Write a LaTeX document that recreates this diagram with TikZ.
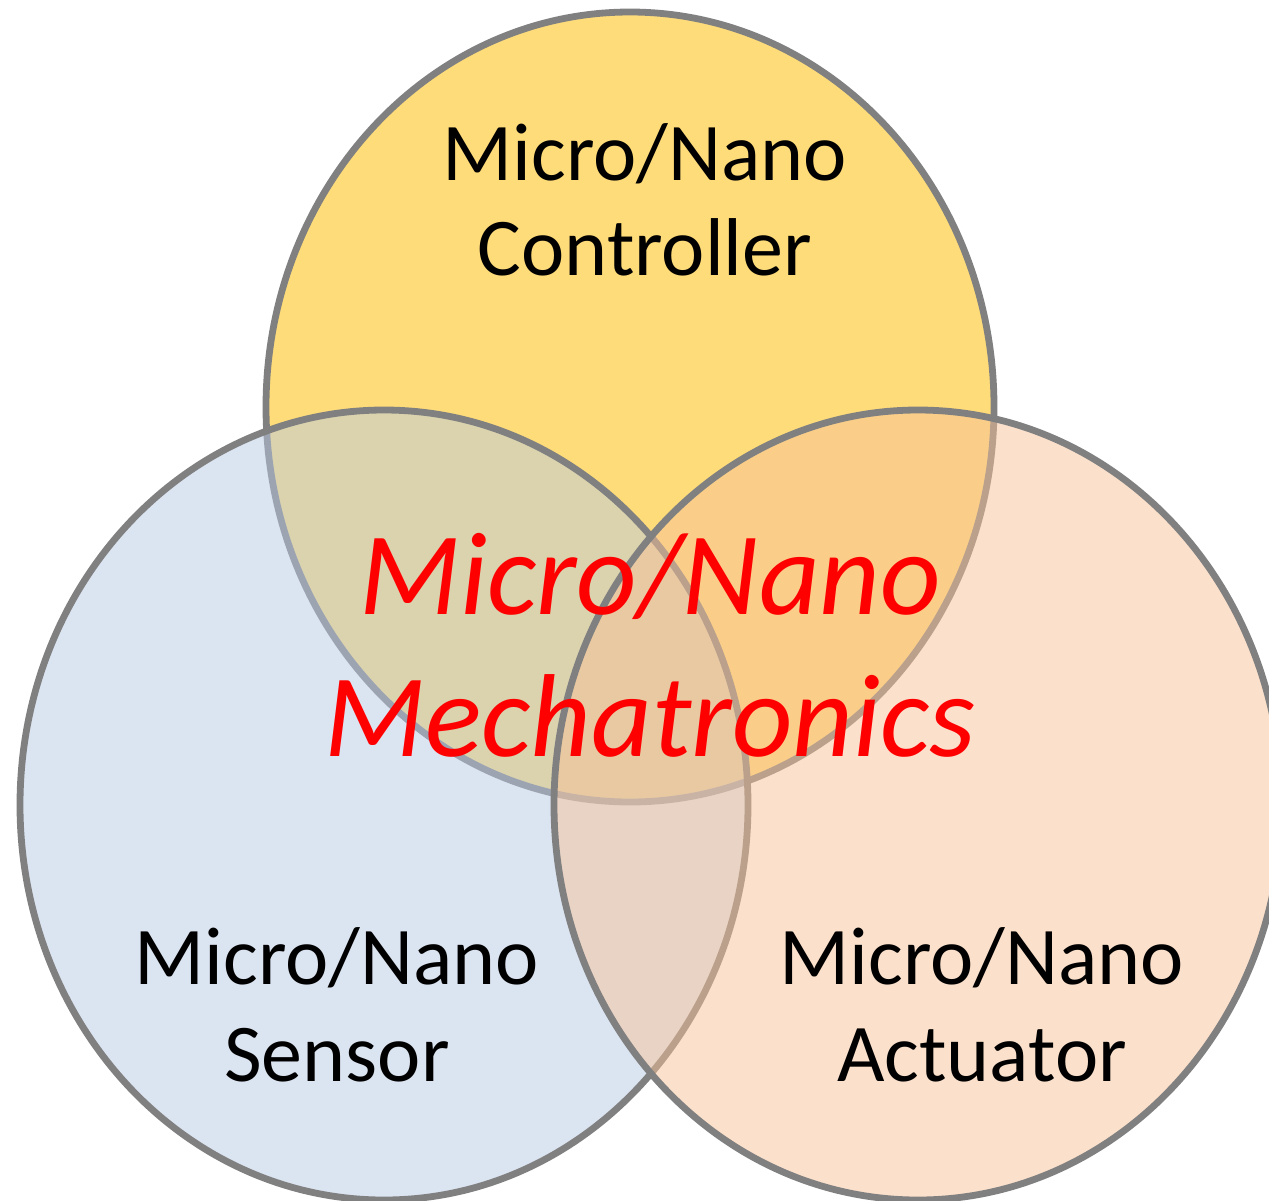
\documentclass[tikz,border=0pt]{standalone}
\usepackage{fontspec}
\setmainfont{Carlito}
\definecolor{ringgray}{RGB}{128,128,128}
\definecolor{ctrlfill}{RGB}{255,220,122}
\definecolor{sensfill}{RGB}{184,201,227}
\definecolor{actfill}{RGB}{247,194,152}
\definecolor{titlered}{RGB}{255,0,0}
\tikzset{
  ring/.style={draw=ringgray, line width=3.4pt},
  label/.style={anchor=base, text=black, font=\fontsize{41}{48}\selectfont, inner sep=0pt},
  title/.style={anchor=base, text=titlered, font=\fontsize{59}{70}\selectfont\itshape, inner sep=0pt}
}
\begin{document}
\begin{tikzpicture}[x=0.5pt, y=-0.5pt]
  \useasboundingbox (0,0) rectangle (1269,1200);
  \clip (0,0) rectangle (1269,1200);
  % three overlapping sets
  \draw[ring, fill=ctrlfill] (630,407) ellipse [x radius=364, y radius=395];
  \draw[ring, fill=sensfill, fill opacity=0.5] (384,805) ellipse [x radius=364, y radius=395];
  \draw[ring, fill=actfill, fill opacity=0.5] (918,805) ellipse [x radius=364, y radius=395];
  % set labels
  \node[label] (ctrl1) at (645,180) {Micro/Nano};
  \node[label] (ctrl2) at (645,275) {Controller};
  \node[label] (sens1) at (337,984) {Micro/Nano};
  \node[label] (sens2) at (337,1081) {Sensor};
  \node[label] (act1) at (982,984) {Micro/Nano};
  \node[label] (act2) at (982,1081) {Actuator};
  % intersection title
  \node[title] (mid1) at (650,614) {Micro/Nano};
  \node[title] (mid2) at (650,756) {Mechatronics};
\end{tikzpicture}
\end{document}
